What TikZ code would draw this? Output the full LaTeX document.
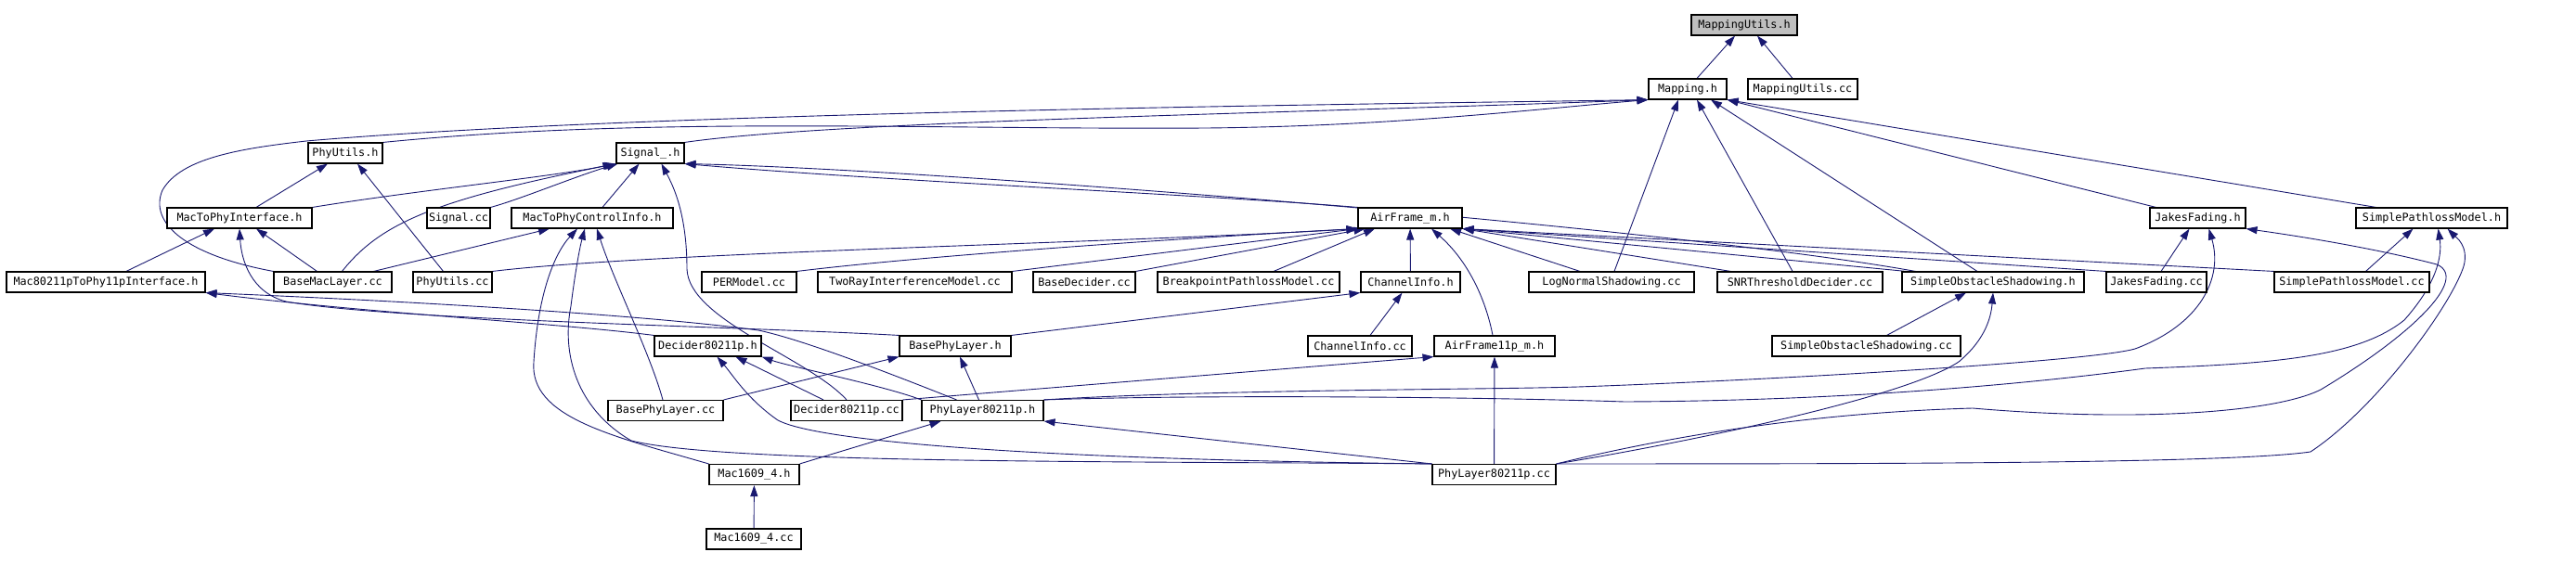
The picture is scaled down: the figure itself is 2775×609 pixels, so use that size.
\documentclass[tikz,border=0pt]{standalone}
\usepackage{fontspec}
\setmonofont{DejaVu Sans Mono}
\usepackage{xcolor}
\usetikzlibrary{arrows.meta,backgrounds}

\definecolor{edgeblue}{HTML}{191970}
\definecolor{rootgray}{HTML}{BFBFBF}

\begin{document}
\begin{tikzpicture}[
  x=1pt, y=-1pt,
  font=\fontsize{11.8}{12}\selectfont\ttfamily,
  file/.style={
    rectangle, draw=black, fill=white, line width=1.1pt,
    inner sep=0pt, minimum height=22pt,
  },
  root/.style={file, fill=rootgray},
  dep/.style={draw=edgeblue, line width=0.9pt,
              -{Triangle[length=12pt,width=8pt]}},
]
\useasboundingbox (0,0) rectangle (2775,609);

% rows of files, top to bottom
\node[root, minimum width=114pt] (mutilh)  at (1879,27) {MappingUtils.h};

\node[file, minimum width=84pt]  (mapping) at (1818,96) {Mapping.h};
\node[file, minimum width=118pt] (mutilcc) at (1942,96) {MappingUtils.cc};

\node[file, minimum width=80pt]  (phyutilsh) at (372,165)   {PhyUtils.h};
\node[file, minimum width=73pt]  (signalh)   at (700.5,165) {Signal\_.h};

\node[file, minimum width=156pt] (mac2phy)  at (258,235)    {MacToPhyInterface.h};
\node[file, minimum width=68pt]  (signalcc) at (494,235)    {Signal.cc};
\node[file, minimum width=174pt] (ctrlinfo) at (638,235)    {MacToPhyControlInfo.h};
\node[file, minimum width=112pt] (airframe) at (1519,235)   {AirFrame\_m.h};
\node[file, minimum width=103pt] (jakesh)   at (2367.5,235) {JakesFading.h};
\node[file, minimum width=163pt] (splh)     at (2619.5,235) {SimplePathlossModel.h};

\node[file, minimum width=214pt] (mac11p)     at (114,304)    {Mac80211pToPhy11pInterface.h};
\node[file, minimum width=127pt] (basemaccc)  at (358.5,304)  {BaseMacLayer.cc};
\node[file, minimum width=85pt]  (phyutilscc) at (487.5,304)  {PhyUtils.cc};
\node[file, minimum width=102pt] (permodel)   at (807,304)    {PERModel.cc};
\node[file, minimum width=209pt] (tworay)     at (985.5,304)  {TwoRayInterferenceModel.cc};
\node[file, minimum width=110pt] (basedec)    at (1168,304)   {BaseDecider.cc};
\node[file, minimum width=196pt] (breakpt)    at (1345,304)   {BreakpointPathlossModel.cc};
\node[file, minimum width=107pt] (chinfoh)    at (1519.5,304) {ChannelInfo.h};
\node[file, minimum width=178pt] (lognorm)    at (1736,304)   {LogNormalShadowing.cc};
\node[file, minimum width=178pt] (snrdec)     at (1939,304)   {SNRThresholdDecider.cc};
\node[file, minimum width=196pt] (obsth)      at (2147,304)   {SimpleObstacleShadowing.h};
\node[file, minimum width=108pt] (jakescc)    at (2323,304)   {JakesFading.cc};
\node[file, minimum width=167pt] (splcc)      at (2533.5,304) {SimplePathlossModel.cc};

\node[file, minimum width=115pt] (dech)        at (762.5,373)  {Decider80211p.h};
\node[file, minimum width=120pt] (basephyh)    at (1029,373)   {BasePhyLayer.h};
\node[file, minimum width=112pt] (chinfocc)    at (1465,373)   {ChannelInfo.cc};
\node[file, minimum width=130pt] (airframe11p) at (1610,373)   {AirFrame11p\_m.h};
\node[file, minimum width=203pt] (obstcc)      at (2010.5,373) {SimpleObstacleShadowing.cc};

\node[file, minimum width=124pt] (basephycc) at (717,442.5)    {BasePhyLayer.cc};
\node[file, minimum width=120pt] (deccc)     at (912,442.5)    {Decider80211p.cc};
\node[file, minimum width=131pt] (phyh)      at (1058.5,442.5) {PhyLayer80211p.h};

\node[file, minimum width=97pt]  (mach)  at (812.5,511.5)  {Mac1609\_4.h};
\node[file, minimum width=133pt] (phycc) at (1609.5,511.5) {PhyLayer80211p.cc};

\node[file, minimum width=102pt] (maccc) at (812,581) {Mac1609\_4.cc};

\begin{scope}[on background layer]
% MappingUtils.h
\draw[dep] ([xshift=10pt]mapping.north) -- ([xshift=-10pt]mutilh.south);
\draw[dep] ([xshift=-11pt]mutilcc.north) -- ([xshift=14pt]mutilh.south);

% Mapping.h
\draw[dep] (basemaccc.north west) .. controls (200,275) and (160,240) .. (175,205)
  .. controls (195,170) and (260,160) .. (330,152)
  .. controls (700,120) and (1500,112) .. (mapping.south west);
\draw[dep] (phyutilsh.north east) .. controls (700,125) and (1000,140) .. (1300,138)
  .. controls (1500,136) and (1650,118) .. (mapping.south west);
\draw[dep] (signalh.north east) .. controls (900,130) and (1400,122) .. (mapping.south west);
\draw[dep] ([xshift=3pt]lognorm.north) -- ([xshift=-10pt]mapping.south);
\draw[dep] ([xshift=-8pt]snrdec.north) -- ([xshift=10pt]mapping.south);
\draw[dep] ([xshift=-17pt]obsth.north) -- ([xshift=25pt]mapping.south);
\draw[dep] ([xshift=-45pt]jakesh.north) -- (mapping.south east);
\draw[dep] ([xshift=-60pt]splh.north) -- (mapping.south east);

% PhyUtils.h
\draw[dep] ([xshift=18pt]mac2phy.north) -- ([xshift=-19pt]phyutilsh.south);
\draw[dep] ([xshift=-10pt]phyutilscc.north) -- ([xshift=13pt]phyutilsh.south);

% Signal_.h
\draw[dep] (mac2phy.north east) .. controls (450,205) and (600,190) .. ([xshift=-2pt]signalh.south west);
\draw[dep] ([xshift=10pt]basemaccc.north) .. controls (410,240) and (470,215) .. (signalh.south west);
\draw[dep] (signalcc.north east) .. controls (560,215) and (620,190) .. ([xshift=2pt]signalh.south west);
\draw[dep] ([xshift=11pt]ctrlinfo.north) -- ([xshift=-12pt]signalh.south);
\draw[dep] (deccc.north) .. controls (870,385) and (742,345) .. (740,290)
  .. controls (740,230) and (725,200) .. ([xshift=12pt]signalh.south);
\draw[dep] (airframe.north west) .. controls (1300,210) and (950,195) .. (signalh.south east);
\draw[dep] ([xshift=15pt]obsth.north west) .. controls (1800,245) and (1000,182) .. (signalh.south east);

% MacToPhyInterface.h
\draw[dep] ([xshift=22pt]mac11p.north) -- ([xshift=-27pt]mac2phy.south);
\draw[dep] ([xshift=-17pt]basemaccc.north) -- ([xshift=18pt]mac2phy.south);
\draw[dep] (basephyh.north west) .. controls (800,352) and (420,345) .. (308,325)
  .. controls (270,315) and (260,280) .. (mac2phy.south);

% Mac80211pToPhy11pInterface.h
\draw[dep] (dech.north west) .. controls (600,348) and (400,338) .. (mac11p.south east);
\draw[dep] ([xshift=-28pt]phyh.north) .. controls (940,395) and (860,365) .. (817,356)
  .. controls (700,340) and (450,325) .. (mac11p.south east);

% MacToPhyControlInfo.h
\draw[dep] ([xshift=-20pt]basemaccc.north east) -- ([xshift=-46pt]ctrlinfo.south);
\draw[dep] (mach.north west) .. controls (660,470) and (570,450) .. (575,390)
  .. controls (580,310) and (600,270) .. ([xshift=-16pt]ctrlinfo.south);
\draw[dep] (phycc.north west) .. controls (1200,497) and (780,500) .. (680,475)
  .. controls (620,440) and (605,380) .. (615,330)
  .. controls (620,290) and (625,265) .. ([xshift=-8pt]ctrlinfo.south);
\draw[dep] ([xshift=-3pt]basephycc.north) .. controls (700,380) and (660,300) .. ([xshift=5pt]ctrlinfo.south);

% AirFrame_m.h
\draw[dep] (phyutilscc.north east) .. controls (700,272) and (1200,262) .. (airframe.south west);
\draw[dep] (permodel.north east) .. controls (1000,275) and (1300,255) .. (airframe.south west);
\draw[dep] (tworay.north east) -- (airframe.south west);
\draw[dep] (basedec.north east) -- ([xshift=8pt]airframe.south west);
\draw[dep] ([xshift=27pt]breakpt.north) -- ([xshift=-38pt]airframe.south);
\draw[dep] (chinfoh) -- (airframe);
\draw[dep] ([xshift=-2pt]airframe11p.north) .. controls (1600,320) and (1580,280) .. ([xshift=23pt]airframe.south);
\draw[dep] ([xshift=-34pt]lognorm.north) -- ([xshift=43pt]airframe.south);
\draw[dep] ([xshift=15pt]snrdec.north west) -- (airframe.south east);
\draw[dep] ([xshift=5pt]obsth.north west) -- (airframe.south east);
\draw[dep] (jakescc.north west) -- (airframe.south east);
\draw[dep] (splcc.north west) -- (airframe.south east);

% ChannelInfo.h
\draw[dep] (basephyh.north east) -- (chinfoh.south west);
\draw[dep] ([xshift=11pt]chinfocc.north) -- ([xshift=-9pt]chinfoh.south);

% BasePhyLayer.h
\draw[dep] (basephycc.north east) -- (basephyh.south west);
\draw[dep] ([xshift=-4pt]phyh.north) -- ([xshift=5pt]basephyh.south);

% Decider80211p.h
\draw[dep] ([xshift=-25pt]deccc.north) -- ([xshift=30pt]dech.south);
\draw[dep] (phyh.north west) .. controls (950,415) and (850,395) .. (dech.south east);
\draw[dep] (phycc.north west) .. controls (1100,495) and (880,475) .. (838,453)
  .. controls (805,430) and (790,405) .. ([xshift=10pt]dech.south);

% AirFrame11p_m.h
\draw[dep] (deccc.north east) -- (airframe11p.south west);
\draw[dep] (phycc) -- (airframe11p);

% PhyLayer80211p.h
\draw[dep] (mach.north east) -- ([xshift=-45pt]phyh.south);
\draw[dep] (phycc.north west) -- (phyh.south east);

% Mac1609_4.h
\draw[dep] (maccc) -- (mach);

% SimpleObstacleShadowing.h
\draw[dep] ([xshift=22pt]obstcc.north) -- ([xshift=-29pt]obsth.south);
\draw[dep] (phycc.north east) .. controls (1800,480) and (2050,430) .. (2110,390)
  .. controls (2140,365) and (2145,340) .. (obsth.south);

% JakesFading.h
\draw[dep] ([xshift=5pt]jakescc.north) -- ([xshift=-9pt]jakesh.south);
\draw[dep] (phyh.north east) .. controls (1300,420) and (1600,420) .. (1700,417)
  .. controls (1900,410) and (2250,390) .. (2300,376)
  .. controls (2370,350) and (2395,300) .. ([xshift=12pt]jakesh.south);
\draw[dep] (phycc.north east) .. controls (1800,470) and (1950,445) .. (2125,440)
  .. controls (2300,455) and (2450,445) .. (2500,420)
  .. controls (2600,360) and (2660,300) .. (2625,285)
  .. controls (2560,268) and (2480,255) .. (jakesh.south east);

% SimplePathlossModel.h
\draw[dep] ([xshift=15pt]splcc.north) -- ([xshift=-20pt]splh.south);
\draw[dep] (phyh.north east) .. controls (1300,425) and (1600,428) .. (1750,433)
  .. controls (2000,432) and (2200,412) .. (2311,397)
  .. controls (2450,392) and (2540,385) .. (2590,345)
  .. controls (2630,300) and (2630,270) .. ([xshift=7pt]splh.south);
\draw[dep] (phycc.north east) .. controls (2000,500) and (2400,500) .. (2489,487)
  .. controls (2560,440) and (2640,330) .. (2654,287)
  .. controls (2660,265) and (2645,255) .. ([xshift=17pt]splh.south);
\end{scope}
\end{tikzpicture}
\end{document}
